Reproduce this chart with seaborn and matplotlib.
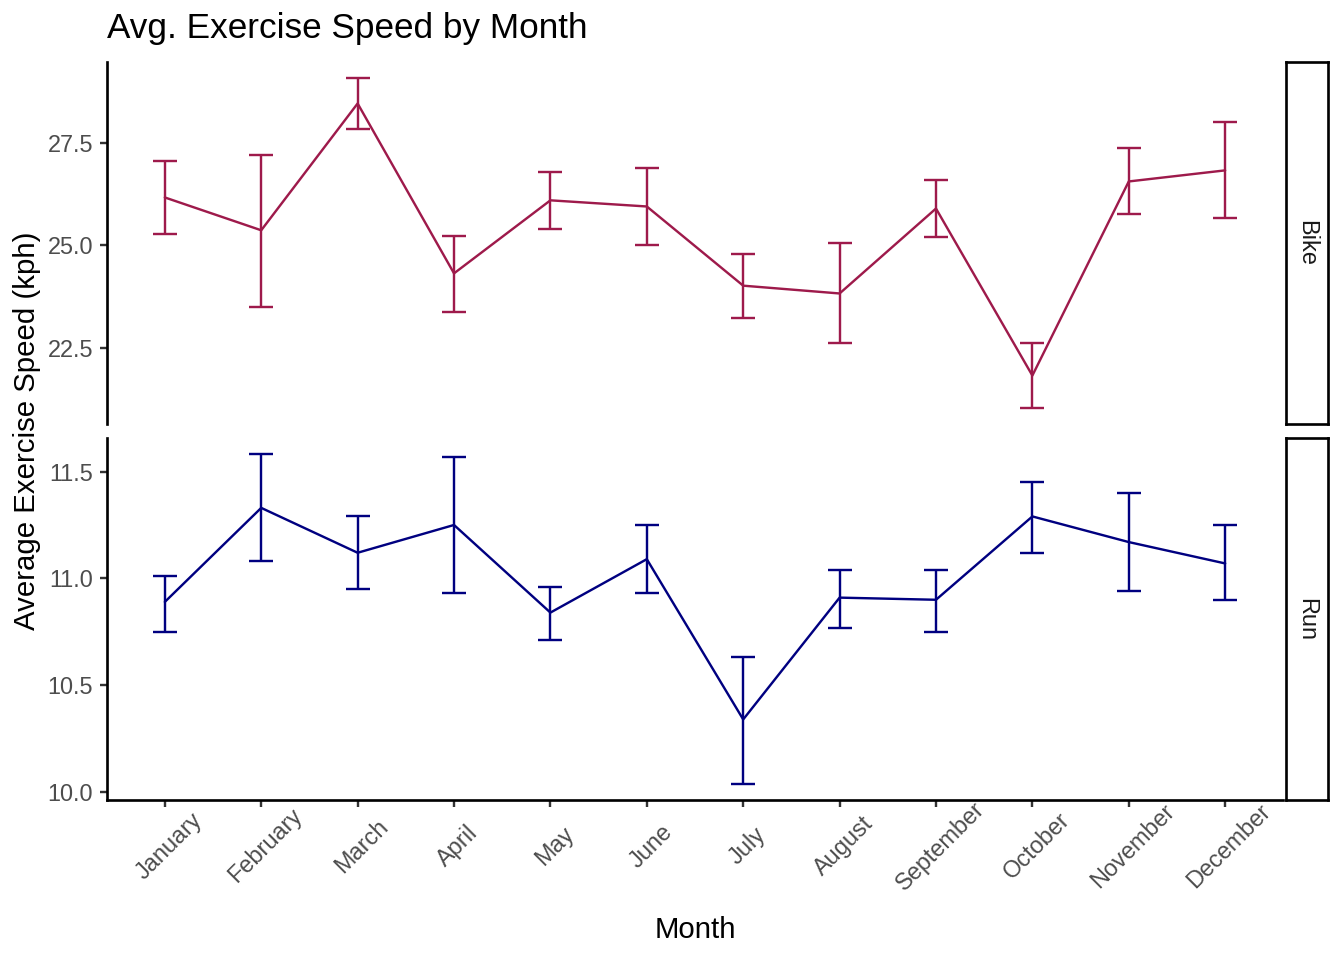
import numpy as np
import pandas as pd
import matplotlib
matplotlib.use("Agg")
import matplotlib.pyplot as plt
import matplotlib.transforms as mtransforms
import seaborn as sns

months = ["January", "February", "March", "April", "May", "June", "July",
          "August", "September", "October", "November", "December"]

bike_speed = [26.17, 25.37, 28.46, 24.32, 26.10, 25.95, 24.02, 23.83, 25.90, 21.83, 26.56, 26.83]
bike_low = [25.29, 23.51, 27.83, 23.39, 25.41, 25.02, 23.24, 22.63, 25.20, 21.05, 25.76, 25.66]
bike_high = [27.07, 27.20, 29.07, 25.22, 26.80, 26.88, 24.78, 25.05, 26.59, 22.63, 27.37, 28.00]

run_speed = [10.89, 11.33, 11.12, 11.25, 10.84, 11.09, 10.34, 10.91, 10.90, 11.29, 11.17, 11.07]
run_low = [10.75, 11.08, 10.95, 10.93, 10.71, 10.93, 10.04, 10.77, 10.75, 11.12, 10.94, 10.90]
run_high = [11.01, 11.58, 11.29, 11.57, 10.96, 11.25, 10.63, 11.04, 11.04, 11.45, 11.40, 11.25]

sns.set_style("ticks")
plt.rcParams['font.family'] = ['Liberation Sans', 'DejaVu Sans']

W, H = 1344, 960
DPI = 192
fig = plt.figure(figsize=(7, 5), dpi=DPI)


def px_axes(x0, y0, x1, y1):
    return fig.add_axes([x0 / W, 1 - y1 / H, (x1 - x0) / W, (y1 - y0) / H])


panels = [
    ("Bike", bike_speed, bike_low, bike_high, "#9E1A4B", (62, 424), [22.5, 25.0, 27.5]),
    ("Run", run_speed, run_low, run_high, "#000080", (438, 800), [10.0, 10.5, 11.0, 11.5]),
]

for i, (name, speed, low, high, color, (ytop, ybot), yticks) in enumerate(panels):
    ax = px_axes(107, ytop, 1283, ybot)
    df = pd.DataFrame({"Month": months, "speed": speed, "low": low, "high": high})
    xs = np.arange(len(months))
    sns.lineplot(x=xs, y=df["speed"], ax=ax, color=color, linewidth=0.9)
    ax.errorbar(xs, df["speed"],
                yerr=[df["speed"] - df["low"], df["high"] - df["speed"]],
                fmt="none", ecolor=color, elinewidth=0.9, capsize=4.5, capthick=0.9)
    lo, hi = min(low), max(high)
    pad = (hi - lo) * 0.05
    ax.set_ylim(lo - pad, hi + pad)
    ax.set_xlim(-0.6, len(months) - 0.4)
    ax.set_yticks(yticks)
    ax.set_yticklabels([f"{t:.1f}" for t in yticks])
    ax.set_ylabel("")
    ax.set_xlabel("")
    for s in ["top", "right"]:
        ax.spines[s].set_visible(False)
    for s in ["left", "bottom"]:
        ax.spines[s].set_linewidth(1.0)
        ax.spines[s].set_color("black")
    ax.tick_params(axis="y", length=2.75, width=0.9, color="#333333",
                   labelsize=8.8, labelcolor="#4D4D4D", pad=2.5)
    if i == 0:
        ax.spines["bottom"].set_visible(False)
        ax.set_xticks([])
    else:
        ax.set_xticks(xs)
        ax.set_xticklabels(months, rotation=45, ha="center", va="center",
                           rotation_mode="anchor")
        ax.tick_params(axis="x", length=2.75, width=0.9, color="#333333",
                       labelsize=8.8, labelcolor="#4D4D4D", pad=14.5)
        shift = mtransforms.ScaledTranslation(4 / DPI, 0, fig.dpi_scale_trans)
        for lab in ax.get_xticklabels():
            lab.set_transform(lab.get_transform() + shift)

    # facet strip
    sax = px_axes(1286, ytop, 1328, ybot)
    sax.set_xticks([])
    sax.set_yticks([])
    for s in sax.spines.values():
        s.set_linewidth(1.0)
        s.set_color("black")
    sax.text(0.5, 0.5, name, rotation=-90, ha="center", va="center",
             fontsize=8.8, color="#1A1A1A", transform=sax.transAxes)

fig.text(107 / W, 1 - 12 / H, "Avg. Exercise Speed by Month", fontsize=13.2,
         ha="left", va="top", color="black")
fig.text(27 / W, 1 - 431 / H, "Average Exercise Speed (kph)", fontsize=11,
         rotation=90, ha="center", va="center", color="black")
fig.text(695 / W, 1 - 930 / H, "Month", fontsize=11, ha="center", va="center",
         color="black")

fig.savefig("out.png", dpi=DPI)
